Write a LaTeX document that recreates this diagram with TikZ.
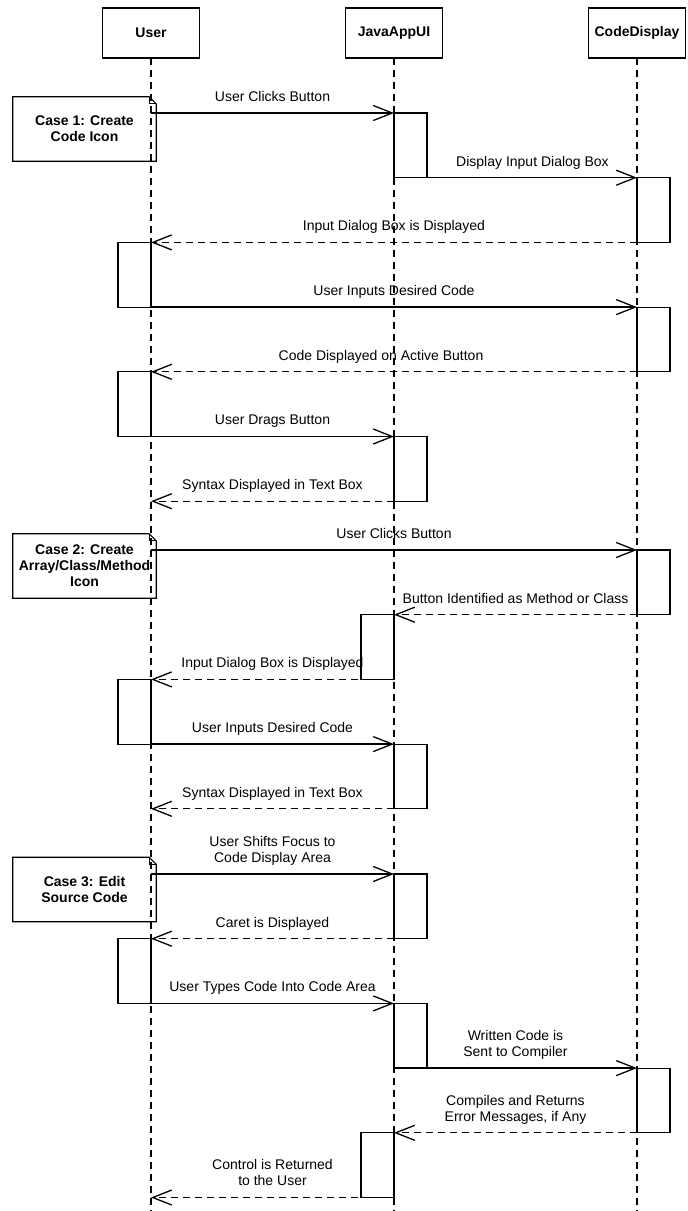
\documentclass[tikz,border=0pt]{standalone}
\usepackage{fontspec}
\setmainfont{Liberation Sans}
\usetikzlibrary{arrows.meta}
\tikzstyle{centered} = [align=center, text centered]
\tikzstyle{obox} = [centered, draw, rectangle, line width=1.2pt, inner sep=0pt, outer sep=0pt]
\tikzset{
  % edge styles
  life/.style={line width=1.1pt, dash pattern=on 7pt off 5pt},
  call/.style={line width=1.3pt, -{Straight Barb[length=19pt,width=15pt]}},
  reply/.style={call, dash pattern=on 7pt off 5pt},
  lbl/.style={centered, midway, anchor=south, inner sep=0pt, yshift=8pt, text depth=3pt},
  % node styles
  head/.style={obox, font=\fontsize{14}{16}\selectfont\bfseries, minimum width=97pt, minimum height=50pt},
  act/.style={obox, anchor=north west, minimum width=33pt, minimum height=64.7pt},
  actl/.style={act, anchor=north east},
  note/.style={centered, font=\fontsize{14}{16}\selectfont\bfseries, minimum width=143pt, minimum height=64pt, inner sep=0pt},
}
\newcommand{\notefold}[1]{%
  \draw[line width=1.2pt] (#1.north west) -- ([xshift=-7pt]#1.north east) -- ([yshift=-7pt]#1.north east) -- (#1.south east) -- (#1.south west) -- cycle;
  \draw[line width=0.8pt] ([xshift=-7pt]#1.north east) |- ([yshift=-7pt]#1.north east);
}

\begin{document}
\begin{tikzpicture}[x=1pt, y=-1pt, font=\fontsize{14}{16}\selectfont]
        \useasboundingbox (0,0) rectangle (688,1211);
        % lifelines
        \node(user)[head] at (151,33) {User};
        \node(app)[head] at (394,33) {JavaAppUI};
        \node(disp)[head] at (637,33) {CodeDisplay};
        \draw[life] (user.south) -- (user.south |- 0,1211);
        \draw[life] (app.south) -- (app.south |- 0,1211);
        \draw[life] (disp.south) -- (disp.south |- 0,1211);
        % Case 1
        \node(case1)[note] at (84.5,129) {Case 1: Create\\Code Icon};
        \notefold{case1}
        \node(a1)[act] at (app |- 0,113) {};
        \draw[call] (user |- a1.north) -- (a1.north west) node[lbl]{User Clicks Button};
        \node(a2)[act] at (disp |- a1.south) {};
        \draw[call] (a1.south west) -- (a2.north west) node[lbl, xshift=17pt]{Display Input Dialog Box};
        \node(a3)[actl] at (user |- a2.south) {};
        \draw[reply] (a2.south west) -- (a3.north east) node[lbl]{Input Dialog Box is Displayed};
        \node(a4)[act] at (disp |- a3.south) {};
        \draw[call] (a3.south east) -- (a4.north west) node[lbl]{User Inputs Desired Code};
        \node(a5)[actl] at (user |- a4.south) {};
        \draw[reply] (a4.south west) -- (a5.north east) node[lbl, xshift=-13pt]{Code Displayed on Active Button};
        \node(a6)[act] at (app |- a5.south) {};
        \draw[call] (a5.south east) -- (a6.north west) node[lbl]{User Drags Button};
        \draw[reply] (a6.south west) -- (user |- a6.south) node[lbl]{Syntax Displayed in Text Box};
        % Case 2
        \node(case2)[note] at (84.5,566) {Case 2: Create\\Array/Class/Method\\Icon};
        \notefold{case2}
        \node(a7)[act] at (disp |- 0,550) {};
        \draw[call] (user |- a7.north) -- (a7.north west) node[lbl]{User Clicks Button};
        \node(a8)[actl] at (app |- a7.south) {};
        \draw[reply] (a7.south west) -- (a8.north east) node[lbl]{Button Identified as Method or Class};
        \node(a9)[actl] at (user |- a8.south) {};
        \draw[reply] (a8.south east) -- (a9.north east) node[lbl]{Input Dialog Box is Displayed};
        \node(a10)[act] at (app |- a9.south) {};
        \draw[call] (a9.south east) -- (a10.north west) node[lbl]{User Inputs Desired Code};
        \draw[reply] (a10.south west) -- (user |- a10.south) node[lbl]{Syntax Displayed in Text Box};
        % Case 3
        \node(case3)[note] at (84.5,889.5) {Case 3: Edit\\Source Code};
        \notefold{case3}
        \node(a11)[act] at (app |- 0,874) {};
        \draw[call] (user |- a11.north) -- (a11.north west) node[lbl]{User Shifts Focus to\\Code Display Area};
        \node(a12)[actl] at (user |- a11.south) {};
        \draw[reply] (a11.south west) -- (a12.north east) node[lbl]{Caret is Displayed};
        \node(a13)[act] at (app |- a12.south) {};
        \draw[call] (a12.south east) -- (a13.north west) node[lbl]{User Types Code Into Code Area};
        \node(a14)[act] at (disp |- a13.south) {};
        \draw[call] (a13.south west) -- (a14.north west) node[lbl]{Written Code is\\Sent to Compiler};
        \node(a15)[actl] at (app |- a14.south) {};
        \draw[reply] (a14.south west) -- (a15.north east) node[lbl]{Compiles and Returns\\Error Messages, if Any};
        \draw[reply] (a15.south east) -- (user |- a15.south) node[lbl]{Control is Returned\\to the User};
\end{tikzpicture}
\end{document}
